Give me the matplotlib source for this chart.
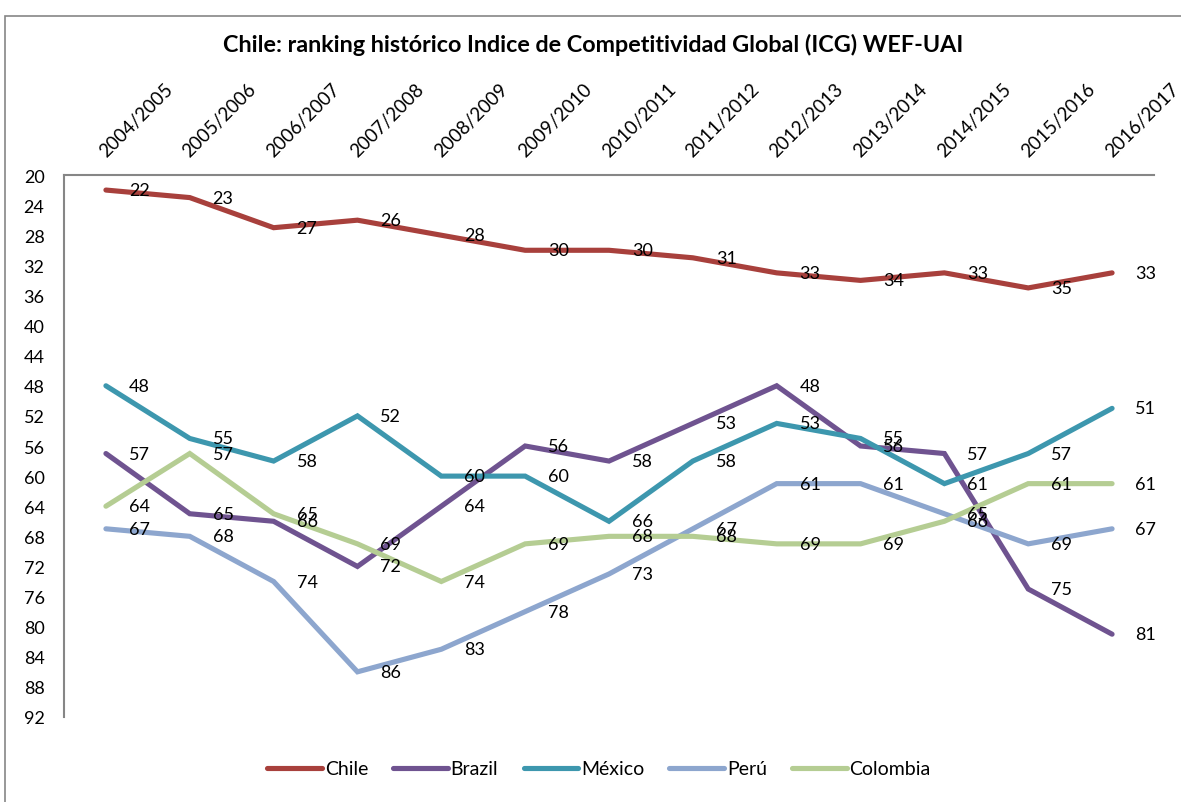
import matplotlib
matplotlib.use("Agg")
import matplotlib.pyplot as plt
from matplotlib.patches import Rectangle

plt.rcParams['font.family'] = ['Lato', 'DejaVu Sans']

years = ["2004/2005", "2005/2006", "2006/2007", "2007/2008", "2008/2009", "2009/2010",
         "2010/2011", "2011/2012", "2012/2013", "2013/2014", "2014/2015", "2015/2016", "2016/2017"]
chile = [22, 23, 27, 26, 28, 30, 30, 31, 33, 34, 33, 35, 33]
brazil = [57, 65, 66, 72, 64, 56, 58, 53, 48, 56, 57, 75, 81]
mexico = [48, 55, 58, 52, 60, 60, 66, 58, 53, 55, 61, 57, 51]
peru = [67, 68, 74, 86, 83, 78, 73, 67, 61, 61, 65, 69, 67]
colombia = [64, 57, 65, 69, 74, 69, 68, 68, 69, 69, 66, 61, 61]
series_names = ["Chile", "Brazil", "México", "Perú", "Colombia"]
series_values = [chile, brazil, mexico, peru, colombia]
colors = ["#A8403C", "#6F5390", "#3D97AE", "#8DA6CE", "#B5CD93"]
yticks = list(range(20, 93, 4))
title = "Chile: ranking histórico Indice de Competitividad Global (ICG) WEF-UAI"

W, H = 1181, 803
fig = plt.figure(figsize=(W / 100, H / 100), dpi=100)

# outer chart border
fig.patches.append(Rectangle((5 / W, -0.01), 1.02, 1 - 17 / H + 0.01, transform=fig.transFigure,
                             fill=False, edgecolor="#868686", linewidth=1.2))

ax = fig.add_axes([64 / W, 1 - 718 / H, (1154 - 64) / W, (718 - 176) / H])
x = list(range(len(years)))
for name, vals, c in zip(series_names, series_values, colors):
    ax.plot(x, vals, color=c, linewidth=3.7, solid_capstyle="round", solid_joinstyle="miter", label=name)
    for xi, v in zip(x, vals):
        ax.annotate(str(v), (xi, v), xytext=(16.5, 0), textcoords="offset points",
                    ha="left", va="center", fontsize=13, color="#000000")

ax.set_xlim(-0.5, len(years) - 0.5)
ax.set_ylim(92, 20)
ax.set_yticks(yticks)
ax.set_yticklabels([str(t) for t in yticks], fontsize=13)
ax.set_xticks([])
ax.tick_params(axis="y", length=0, pad=14)
for s in ["right", "bottom"]:
    ax.spines[s].set_visible(False)
for s in ["left", "top"]:
    ax.spines[s].set_color("#868686")
    ax.spines[s].set_linewidth(1.5)

# category labels above the (top) category axis
for xi, lab in zip(x, years):
    ax.annotate(lab, (xi, 1.0), xycoords=ax.get_xaxis_transform(), xytext=(0, 12.5),
                textcoords="offset points", rotation=45, rotation_mode="anchor",
                ha="left", va="baseline", fontsize=13.5, annotation_clip=False)

fig.text(593 / W, 1 - 45 / H, title, ha="center", va="center", fontsize=16.8, fontweight="bold")

leg = fig.legend(loc="center", bbox_to_anchor=(599 / W, 1 - 770 / H), ncol=5, frameon=False,
                 fontsize=14, handlelength=2.8, handletextpad=0.15, columnspacing=1.3)
for h in leg.get_lines():
    h.set_linewidth(3.7)
    h.set_solid_capstyle("round")

fig.savefig("out.png", dpi=100)
